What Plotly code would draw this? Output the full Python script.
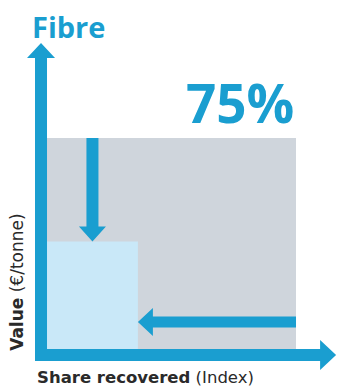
import plotly.graph_objects as go

# Index values: the full market is 1 on both axes
full_share = 1.0
full_value = 1.0
recovered_share = 0.365
recovered_value = 0.51
headline = "75%"
title = "Fibre"
x_title_bold = "Share recovered"
x_title_rest = " (Index)"
y_title_bold = "Value"
y_title_rest = " (€/tonne)"

BLUE = "#1a9ed0"
GREY = "#cfd5dc"
LIGHT = "#c9e8f8"
DARK = "#2a2a2a"

W, H = 342, 389
X_RANGE = [-0.1888, 1.1847]
Y_RANGE = [-0.1896, 1.6540]
SX = W / (X_RANGE[1] - X_RANGE[0])   # px per index unit, x
SY = H / (Y_RANGE[1] - Y_RANGE[0])   # px per index unit, y


def to_px(x, y):
    return (x - X_RANGE[0]) * SX, (Y_RANGE[1] - y) * SY


def to_data(px, py):
    return px / SX + X_RANGE[0], Y_RANGE[1] - py / SY


def arrow_path(x0, y0, x1, y1, shaft, head_w, head_len):
    """Block arrow from (x0, y0) to tip (x1, y1); widths in pixels."""
    p0 = to_px(x0, y0)
    p1 = to_px(x1, y1)
    dx, dy = p1[0] - p0[0], p1[1] - p0[1]
    length = (dx * dx + dy * dy) ** 0.5
    ux, uy = dx / length, dy / length
    nx, ny = -uy, ux
    bx, by = p1[0] - ux * head_len, p1[1] - uy * head_len
    pts = [
        (p0[0] + nx * shaft / 2, p0[1] + ny * shaft / 2),
        (bx + nx * shaft / 2, by + ny * shaft / 2),
        (bx + nx * head_w / 2, by + ny * head_w / 2),
        p1,
        (bx - nx * head_w / 2, by - ny * head_w / 2),
        (bx - nx * shaft / 2, by - ny * shaft / 2),
        (p0[0] - nx * shaft / 2, p0[1] - ny * shaft / 2),
    ]
    d = [to_data(*p) for p in pts]
    return "M " + " L ".join(f"{x:.5f},{y:.5f}" for x, y in d) + " Z"


fig = go.Figure()
fig.add_trace(go.Scatter(x=[0, full_share], y=[0, full_value], mode="markers",
                         marker=dict(opacity=0), hoverinfo="skip", showlegend=False))

shapes = []
# full market block
shapes.append(dict(type="rect", x0=0, x1=full_share, y0=0, y1=full_value,
                   fillcolor=GREY, line=dict(width=0), layer="below"))
# recovered block
shapes.append(dict(type="rect", x0=0, x1=recovered_share, y0=0, y1=recovered_value,
                   fillcolor=LIGHT, line=dict(width=0), layer="below"))

# axes drawn as thick arrows just outside the origin
axis_w = 12
off_x = axis_w / 2 / SX
off_y = axis_w / 2 / SY
shapes.append(dict(type="path", path=arrow_path(-off_x, -2 * off_y, -off_x, 1.45,
                                                axis_w, 28, 15),
                   fillcolor=BLUE, line=dict(width=0)))
shapes.append(dict(type="path", path=arrow_path(-2 * off_x, -off_y, 1.161, -off_y,
                                                axis_w, 30, 16),
                   fillcolor=BLUE, line=dict(width=0)))

# value drop and share drop
shapes.append(dict(type="path",
                   path=arrow_path(recovered_share / 2, full_value,
                                   recovered_share / 2, recovered_value, 12, 27, 15),
                   fillcolor=BLUE, line=dict(width=0)))
shapes.append(dict(type="path",
                   path=arrow_path(full_share, recovered_value / 4,
                                   recovered_share, recovered_value / 4, 11, 28, 15),
                   fillcolor=BLUE, line=dict(width=0)))

annotations = [
    dict(x=full_share, y=1.17, xref="x", yref="y", text=f"<b>{headline}</b>",
         showarrow=False, xanchor="right", yanchor="middle",
         font=dict(family="Open Sans", size=53, color=BLUE)),
    dict(x=-0.07, y=1.53, xref="x", yref="y", text=f"<b>{title}</b>",
         showarrow=False, xanchor="left", yanchor="middle",
         font=dict(family="Open Sans", size=29, color=BLUE)),
    dict(x=-0.05, y=Y_RANGE[0], xref="x", yref="y",
         text=f"<b>{x_title_bold}</b>{x_title_rest}",
         showarrow=False, xanchor="left", yanchor="bottom",
         font=dict(family="DejaVu Sans", size=16.5, color=DARK)),
    dict(x=-0.12, y=-0.02, xref="x", yref="y",
         text=f"<b>{y_title_bold}</b>{y_title_rest}", textangle=-90,
         showarrow=False, xanchor="center", yanchor="bottom",
         font=dict(family="DejaVu Sans", size=17, color=DARK)),
]

fig.update_layout(
    width=W, height=H,
    margin=dict(l=0, r=0, t=0, b=0),
    paper_bgcolor="white", plot_bgcolor="white",
    xaxis=dict(range=X_RANGE, visible=False, fixedrange=True),
    yaxis=dict(range=Y_RANGE, visible=False, fixedrange=True),
    shapes=shapes, annotations=annotations,
    showlegend=False,
)

fig.write_html("out.html")
